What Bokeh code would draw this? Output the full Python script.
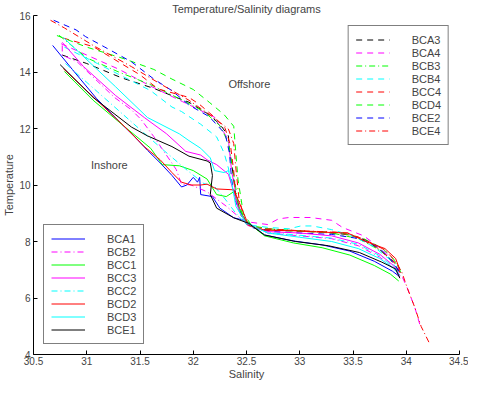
from bokeh.plotting import figure
from bokeh.models import Legend, LegendItem, Label, FixedTicker, Range1d
from bokeh.embed import file_html
from bokeh.resources import INLINE

# ---- data (salinity, temperature) ----
bca1_sal = [30.68, 30.88, 31.09, 31.33, 31.45, 31.57, 31.69, 31.80, 31.89, 31.94, 32.00, 32.04, 32.06, 32.07, 32.18, 32.25, 32.38, 32.49, 32.67, 32.94, 33.21, 33.47, 33.70, 33.87, 33.94]
bca1_temp = [14.94, 14.02, 13.07, 12.15, 11.71, 11.23, 10.78, 10.34, 9.93, 10.00, 10.27, 10.10, 10.27, 9.66, 9.59, 9.18, 8.84, 8.74, 8.23, 8.02, 7.88, 7.66, 7.30, 6.95, 6.75]
bcb2_sal = [30.77, 30.77, 30.91, 31.26, 31.42, 31.51, 31.63, 31.84, 31.89, 31.98, 32.13, 32.31, 32.49, 32.70, 33.00, 33.30, 33.55, 33.75, 33.88, 33.94]
bcb2_temp = [14.94, 14.60, 14.36, 13.10, 12.66, 12.32, 11.71, 10.55, 10.03, 10.00, 9.76, 9.25, 8.67, 8.30, 8.20, 8.10, 7.85, 7.45, 7.05, 6.75]
bcc1_sal = [30.79, 31.06, 31.36, 31.60, 31.71, 31.87, 32.00, 32.13, 32.22, 32.31, 32.38, 32.43, 32.49, 32.67, 32.94, 33.21, 33.47, 33.70, 33.85, 33.93]
bcc1_temp = [14.02, 13.00, 12.05, 11.30, 10.72, 10.68, 10.51, 10.21, 9.66, 9.59, 9.76, 9.18, 8.74, 8.20, 7.95, 7.78, 7.52, 7.15, 6.85, 6.60]
bcc3_sal = [30.77, 30.97, 31.27, 31.54, 31.75, 31.93, 32.07, 32.13, 32.22, 32.33, 32.38, 32.43, 32.51, 32.70, 33.00, 33.30, 33.55, 33.75, 33.88, 33.94]
bcc3_temp = [15.05, 14.19, 13.17, 12.39, 11.81, 11.19, 11.06, 10.89, 10.72, 10.38, 9.76, 9.08, 8.57, 8.35, 8.30, 8.20, 7.95, 7.55, 7.15, 6.80]
bcc2_sal = [30.80, 31.10, 31.40, 31.70, 31.95, 32.10, 32.20, 32.30, 32.40, 32.50, 32.70, 33.00, 33.30, 33.55, 33.75, 33.88, 33.94]
bcc2_temp = [14.30, 13.30, 12.30, 11.30, 10.50, 10.05, 9.95, 9.50, 9.00, 8.60, 8.32, 8.22, 8.12, 7.90, 7.50, 7.10, 6.80]
bcd2_sal = [30.78, 31.36, 31.54, 31.69, 31.80, 31.89, 31.98, 32.07, 32.13, 32.22, 32.38, 32.42, 32.52, 32.67, 32.94, 33.21, 33.45, 33.62, 33.80, 33.90, 33.94]
bcd2_temp = [14.12, 12.05, 11.36, 10.89, 10.44, 10.10, 10.00, 10.00, 10.03, 9.86, 9.83, 9.49, 8.57, 8.40, 8.38, 8.33, 8.30, 8.00, 7.75, 7.40, 7.00]
bcd3_sal = [30.78, 31.27, 31.57, 31.87, 31.96, 32.07, 32.16, 32.20, 32.29, 32.33, 32.36, 32.40, 32.49, 32.70, 33.00, 33.30, 33.55, 33.75, 33.88, 33.94]
bcd3_temp = [15.22, 13.48, 12.39, 11.81, 11.57, 11.30, 10.96, 10.51, 10.44, 10.51, 10.10, 9.25, 8.67, 8.30, 8.15, 8.00, 7.75, 7.40, 7.05, 6.80]
bce1_sal = [30.75, 31.06, 31.42, 31.57, 31.80, 31.96, 32.13, 32.16, 32.18, 32.16, 32.22, 32.38, 32.52, 32.67, 32.96, 33.27, 33.56, 33.77, 33.90, 33.94]
bce1_temp = [14.26, 13.10, 12.05, 11.74, 11.36, 11.02, 10.85, 10.78, 10.34, 9.66, 9.18, 8.84, 8.64, 8.23, 8.00, 7.85, 7.61, 7.27, 7.03, 6.70]

bca3_sal = [30.77, 31.00, 31.33, 31.63, 31.84, 31.96, 32.15, 32.25, 32.33, 32.34, 32.36, 32.40, 32.47, 32.60, 32.90, 33.20, 33.45, 33.62, 33.77, 33.89, 33.94]
bca3_temp = [14.60, 14.30, 13.79, 13.42, 13.10, 12.93, 12.49, 12.15, 11.74, 11.23, 10.78, 9.60, 8.75, 8.42, 8.38, 8.33, 8.25, 8.05, 7.65, 7.20, 6.85]
bca4_sal = [30.76, 31.00, 31.30, 31.60, 31.90, 32.20, 32.33, 32.36, 32.42, 32.50, 32.70, 32.80, 32.90, 33.10, 33.30, 33.40, 33.60, 33.78, 33.92, 34.01, 34.08, 34.14]
bca4_temp = [15.00, 14.60, 14.10, 13.50, 12.95, 12.40, 11.60, 10.50, 9.30, 8.70, 8.60, 8.80, 8.85, 8.85, 8.75, 8.50, 8.20, 7.70, 7.10, 6.35, 5.67, 4.90]
bcb3_sal = [30.74, 31.00, 31.30, 31.60, 31.90, 32.10, 32.25, 32.33, 32.37, 32.42, 32.50, 32.70, 33.00, 33.30, 33.55, 33.75, 33.90, 33.95]
bcb3_temp = [15.30, 14.50, 14.00, 13.55, 13.00, 12.60, 12.10, 11.50, 10.60, 9.40, 8.60, 8.45, 8.38, 8.30, 8.10, 7.70, 7.25, 6.90]
bcb4_sal = [30.79, 31.10, 31.60, 31.80, 31.89, 32.07, 32.22, 32.29, 32.33, 32.36, 32.42, 32.50, 32.70, 32.90, 33.01, 33.12, 33.30, 33.50, 33.70, 33.85, 33.93]
bcb4_temp = [14.88, 14.30, 13.34, 12.76, 12.60, 12.15, 11.70, 11.13, 10.60, 10.00, 9.20, 8.60, 8.50, 8.45, 8.55, 8.55, 8.42, 8.20, 7.80, 7.35, 6.95]
bcc4_sal = [30.78, 31.06, 31.50, 31.67, 31.96, 32.06, 32.20, 32.30, 32.35, 32.38, 32.40, 32.45, 32.55, 32.80, 33.10, 33.35, 33.55, 33.72, 33.88, 33.95]
bcc4_temp = [15.20, 14.90, 13.90, 13.40, 13.10, 12.85, 12.40, 12.00, 11.40, 10.50, 9.60, 8.90, 8.50, 8.42, 8.36, 8.33, 8.15, 7.80, 7.30, 6.85]
bcd4_sal = [30.72, 31.00, 31.35, 31.63, 31.80, 32.00, 32.15, 32.29, 32.38, 32.40, 32.42, 32.47, 32.56, 32.80, 33.10, 33.40, 33.60, 33.78, 33.90, 33.95]
bcd4_temp = [15.29, 14.88, 14.47, 14.09, 13.75, 13.38, 12.93, 12.49, 12.08, 11.13, 10.20, 9.00, 8.50, 8.40, 8.35, 8.30, 8.10, 7.75, 7.30, 6.95]
bce2_sal = [30.69, 30.90, 30.99, 31.17, 31.42, 31.63, 31.80, 31.96, 32.15, 32.30, 32.34, 32.36, 32.40, 32.47, 32.54, 32.76, 33.00, 33.30, 33.56, 33.74, 33.87, 33.94]
bce2_temp = [15.83, 15.49, 15.25, 14.88, 14.36, 13.75, 13.34, 12.83, 12.42, 11.81, 11.13, 10.20, 9.40, 8.80, 8.50, 8.35, 8.30, 8.25, 8.10, 7.80, 7.30, 6.90]
bce4_sal = [30.66, 30.79, 31.06, 31.42, 31.69, 31.96, 32.18, 32.33, 32.38, 32.40, 32.43, 32.49, 32.60, 32.90, 33.20, 33.45, 33.62, 33.80, 33.90, 33.96, 34.01, 34.08, 34.14, 34.22]
bce4_temp = [15.83, 15.56, 14.94, 14.19, 13.58, 13.00, 12.42, 11.98, 11.47, 10.60, 9.50, 8.70, 8.45, 8.40, 8.35, 8.30, 8.05, 7.70, 7.30, 6.90, 6.35, 5.67, 4.99, 4.38]

x_ticks = [30.5, 31, 31.5, 32, 32.5, 33, 33.5, 34, 34.5]
y_ticks = [4, 6, 8, 10, 12, 14, 16]

FONT = "Liberation Sans"
DASH = "6 5"
DASHDOT = "6 3 1 3"

inshore = [
    ("BCA1", bca1_sal, bca1_temp, "#0000ff", "solid"),
    ("BCB2", bcb2_sal, bcb2_temp, "#ff00ff", DASHDOT),
    ("BCC1", bcc1_sal, bcc1_temp, "#00ff00", "solid"),
    ("BCC3", bcc3_sal, bcc3_temp, "#ff00ff", "solid"),
    ("BCC2", bcc2_sal, bcc2_temp, "#00ffff", DASHDOT),
    ("BCD2", bcd2_sal, bcd2_temp, "#ff0000", "solid"),
    ("BCD3", bcd3_sal, bcd3_temp, "#00ffff", "solid"),
    ("BCE1", bce1_sal, bce1_temp, "#000000", "solid"),
]
offshore = [
    ("BCA3", bca3_sal, bca3_temp, "#000000", DASH),
    ("BCA4", bca4_sal, bca4_temp, "#ff00ff", DASH),
    ("BCB3", bcb3_sal, bcb3_temp, "#00ff00", DASHDOT),
    ("BCB4", bcb4_sal, bcb4_temp, "#00ffff", DASH),
    ("BCC4", bcc4_sal, bcc4_temp, "#ff0000", DASH),
    ("BCD4", bcd4_sal, bcd4_temp, "#00ff00", DASH),
    ("BCE2", bce2_sal, bce2_temp, "#0000ff", DASH),
    ("BCE4", bce4_sal, bce4_temp, "#ff0000", DASHDOT),
]

p = figure(width=468, height=382, output_backend="svg", toolbar_location=None,
           x_range=Range1d(30.5, 34.5), y_range=Range1d(4, 16),
           min_border_left=28, min_border_right=9, min_border_top=12, min_border_bottom=20,
           title="Temperature/Salinity diagrams")
p.title.align = "center"
p.title.text_font = FONT
p.title.text_font_size = "11px"
p.title.text_font_style = "normal"
p.title.offset = 0
p.title.standoff = 1
p.outline_line_color = None
p.xgrid.visible = False
p.ygrid.visible = False

for ax in (p.xaxis[0], p.yaxis[0]):
    ax.major_tick_in = 4
    ax.major_tick_out = 0
    ax.minor_tick_line_color = None
    ax.major_label_text_font = FONT
    ax.major_label_text_font_size = "10px"
    ax.axis_label_text_font = FONT
    ax.axis_label_text_font_size = "11px"
    ax.axis_label_text_font_style = "normal"
    ax.axis_line_color = "black"
    ax.major_tick_line_color = "black"

p.xaxis[0].ticker = FixedTicker(ticks=x_ticks)
p.yaxis[0].ticker = FixedTicker(ticks=y_ticks)
p.xaxis[0].major_label_overrides = {t: (str(int(t)) if t == int(t) else str(t)) for t in x_ticks}
p.xaxis[0].axis_label = "Salinity"
p.yaxis[0].axis_label = "Temperature"
p.xaxis[0].major_label_standoff = 2
p.xaxis[0].axis_label_standoff = 0
p.yaxis[0].major_label_standoff = 3
p.yaxis[0].axis_label_standoff = 1

def draw(series):
    items = []
    for name, xs, ys, color, dash in series:
        r = p.line(xs, ys, line_color=color, line_width=1, line_dash=dash)
        items.append(LegendItem(label=name, renderers=[r]))
    return items

off_items = draw(offshore)
in_items = draw(inshore)

def make_legend(items, loc):
    lg = Legend(items=items, location=loc)
    lg.label_text_font = FONT
    lg.label_text_font_size = "11px"
    lg.label_height = 13
    lg.glyph_height = 13
    lg.glyph_width = 34
    lg.label_standoff = 22
    lg.spacing = 0
    lg.padding = 7
    lg.margin = 10
    lg.border_line_color = "black"
    lg.border_line_width = 1
    lg.background_fill_alpha = 1.0
    return lg

p.add_layout(make_legend(off_items, "top_right"))
p.add_layout(make_legend(in_items, "bottom_left"))

p.add_layout(Label(x=32.33, y=13.38, text="Offshore", text_font=FONT, text_font_size="11px"))
p.add_layout(Label(x=31.04, y=10.5, text="Inshore", text_font=FONT, text_font_size="11px"))

open("out.html", "w").write(file_html(p, INLINE))
